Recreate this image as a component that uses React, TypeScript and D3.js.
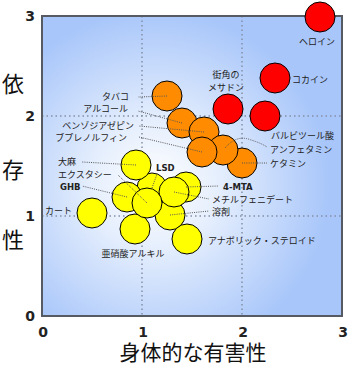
import React from 'react'
import * as d3 from 'd3'

// Nutt et al. style harm chart (physical harm vs dependence)
const drugs = ['ヘロイン', 'コカイン', '街角のメサドン', 'バルビツール酸', 'タバコ', 'アルコール', 'ベンゾジアゼピン', 'ケタミン', 'アンフェタミン', 'ブプレノルフィン',
  'LSD', '4-MTA', '溶剤', 'メチルフェニデート', 'アナボリック・ステロイド', 'カート', '亜硝酸アルキル', 'GHB', 'エクスタシー', '大麻']
const physical = [2.78, 2.33, 1.86, 2.23, 1.25, 1.40, 1.62, 2.00, 1.81, 1.60,
  1.10, 1.44, 1.28, 1.32, 1.45, 0.50, 0.93, 0.85, 1.05, 0.94]
const dependence = [2.99, 2.38, 2.07, 2.00, 2.20, 1.93, 1.84, 1.53, 1.66, 1.64,
  1.28, 1.29, 1.01, 1.24, 0.77, 1.03, 0.87, 1.19, 1.13, 1.51]
const group = ['red', 'red', 'red', 'red', 'orange', 'orange', 'orange', 'orange', 'orange', 'orange',
  'yellow', 'yellow', 'yellow', 'yellow', 'yellow', 'yellow', 'yellow', 'yellow', 'yellow', 'yellow']
const ticks = [0, 1, 2, 3]
const xTitle = '身体的な有害性'
const yTitle = ['依', '存', '性']

const fills: Record<string, string> = { red: '#ff0000', orange: '#ff8c00', yellow: '#ffff00' }

// label layout (pixels): text position, anchor, optional leader start
type Lab = { lines: string[]; x: number; y: number; anchor: string; lead?: [number, number]; curve?: boolean; bold?: boolean }
const labels: Record<string, Lab> = {
  'ヘロイン': { lines: ['ヘロイン'], x: 317, y: 45, anchor: 'middle' },
  'コカイン': { lines: ['コカイン'], x: 292, y: 83, anchor: 'start' },
  '街角のメサドン': { lines: ['街角の', 'メサドン'], x: 226, y: 78, anchor: 'middle' },
  'バルビツール酸': { lines: ['バルビツール酸'], x: 271, y: 139, anchor: 'start' },
  'タバコ': { lines: ['タバコ'], x: 129, y: 100, anchor: 'end', lead: [138, 97] },
  'アルコール': { lines: ['アルコール'], x: 128, y: 112, anchor: 'end', lead: [138, 111] },
  'ベンゾジアゼピン': { lines: ['ベンゾジアゼピン'], x: 134, y: 129, anchor: 'end', lead: [139, 126] },
  'ブプレノルフィン': { lines: ['ブプレノルフィン'], x: 127, y: 141, anchor: 'end', lead: [139, 137] },
  'アンフェタミン': { lines: ['アンフェタミン'], x: 270, y: 153, anchor: 'start', lead: [267, 147], curve: true },
  'ケタミン': { lines: ['ケタミン'], x: 270, y: 167, anchor: 'start', lead: [267, 163] },
  '大麻': { lines: ['大麻'], x: 58, y: 165, anchor: 'start', lead: [82, 162] },
  'エクスタシー': { lines: ['エクスタシー'], x: 58, y: 178, anchor: 'start', lead: [118, 175] },
  'GHB': { lines: ['GHB'], x: 60, y: 190, anchor: 'start', lead: [82, 186], bold: true },
  'カート': { lines: ['カート'], x: 45, y: 214, anchor: 'start' },
  '亜硝酸アルキル': { lines: ['亜硝酸アルキル'], x: 133, y: 257, anchor: 'middle' },
  'LSD': { lines: ['LSD'], x: 156, y: 171, anchor: 'start', lead: [157, 174], bold: true },
  '4-MTA': { lines: ['4-MTA'], x: 223, y: 190, anchor: 'start', lead: [219, 186], bold: true },
  'メチルフェニデート': { lines: ['メチルフェニデート'], x: 212, y: 203, anchor: 'start', lead: [209, 199] },
  '溶剤': { lines: ['溶剤'], x: 212, y: 215, anchor: 'start', lead: [209, 211] },
  'アナボリック・ステロイド': { lines: ['アナボリック・ステロイド'], x: 208, y: 244, anchor: 'start' },
}

// draw order (later on top)
const order = ['ヘロイン', 'コカイン', '街角のメサドン', 'バルビツール酸', 'タバコ', 'アルコール', 'ベンゾジアゼピン', 'ケタミン', 'アンフェタミン', 'ブプレノルフィン',
  'LSD', '4-MTA', '溶剤', 'メチルフェニデート', 'アナボリック・ステロイド', 'カート', '亜硝酸アルキル', 'GHB', 'エクスタシー', '大麻']

export default function App() {
  const W = 361, H = 366
  const left = 42, right = 342, top = 16, bottom = 316
  const x = d3.scaleLinear().domain([0, 3]).range([left, right])
  const y = d3.scaleLinear().domain([0, 3]).range([bottom, top])
  const r = 15
  const jp = '"Noto Sans CJK JP", "Noto Sans", sans-serif'

  const idx = order.map(n => drugs.indexOf(n))

  return (
    <svg width={W} height={H} style={{ position: 'absolute', left: 0, top: 0, background: '#fff' }}>
      <defs>
        <radialGradient id="bg" gradientUnits="userSpaceOnUse" cx={155} cy={185} r={175}>
          <stop offset="0" stopColor="#ffffff" />
          <stop offset="0.35" stopColor="#e6effd" />
          <stop offset="1" stopColor="#a8c6fa" />
        </radialGradient>
      </defs>
      <rect x={left} y={top} width={right - left} height={bottom - top} fill="url(#bg)" />
      {[1, 2].map(v => (
        <g key={v}>
          <line x1={x(v)} x2={x(v)} y1={top} y2={bottom} stroke="#8490a6" strokeWidth={1.5} strokeDasharray="1.5,3" />
          <line x1={left} x2={right} y1={y(v)} y2={y(v)} stroke="#8490a6" strokeWidth={1.5} strokeDasharray="1.5,3" />
        </g>
      ))}
      <rect x={left} y={top} width={right - left} height={bottom - top} fill="none" stroke="#555a63" strokeWidth={2} />

      <g>
        {idx.map(i => (
          <circle key={drugs[i]} cx={x(physical[i])} cy={y(dependence[i])} r={r} fill={fills[group[i]]} stroke="#000" strokeWidth={1} />
        ))}
      </g>

      {idx.map(i => {
        const lab = labels[drugs[i]]
        if (!lab.lead) return null
        const cx = x(physical[i]), cy = y(dependence[i])
        const [sx, sy] = lab.lead
        const d = lab.curve
          ? `M${cx + 2},${cy - 2} Q${cx + 14},${cy - 16} ${(cx + sx) / 2 + 6},${cy - 10} Q${sx - 6},${sy - 4} ${sx},${sy}`
          : `M${cx},${cy} L${sx},${sy}`
        return <path key={'l' + drugs[i]} d={d} fill="none" stroke="#555" strokeWidth={1} strokeDasharray="1,1.2" />
      })}

      {idx.map(i => {
        const lab = labels[drugs[i]]
        return (
          <text key={'t' + drugs[i]} x={lab.x} y={lab.y} textAnchor={lab.anchor}
            fontFamily={lab.bold ? '"DejaVu Sans", sans-serif' : jp} fontWeight={lab.bold ? 'bold' : 'normal'}
            fontSize={lab.bold ? 8.5 : 9} fill="#222">
            {lab.lines.map((t, k) => <tspan key={k} x={lab.x} dy={k === 0 ? 0 : 13}>{t}</tspan>)}
          </text>
        )
      })}

      {ticks.map(t => (
        <text key={'yt' + t} x={35} y={y(t) + 5} textAnchor="end" fontFamily='"DejaVu Sans", sans-serif' fontWeight="bold" fontSize={14} fill="#222">{t}</text>
      ))}
      {ticks.map(t => (
        <text key={'xt' + t} x={x(t) + 1} y={337} textAnchor="middle" fontFamily='"DejaVu Sans", sans-serif' fontWeight="bold" fontSize={14} fill="#222">{t}</text>
      ))}
      <text x={193} y={360} textAnchor="middle" fontFamily={jp} fontSize={21} fill="#111">{xTitle}</text>
      {yTitle.map((c, k) => (
        <text key={c} x={13} y={[92, 178, 248][k]} textAnchor="middle" fontFamily={jp} fontSize={22} fill="#111">{c}</text>
      ))}
    </svg>
  )
}
